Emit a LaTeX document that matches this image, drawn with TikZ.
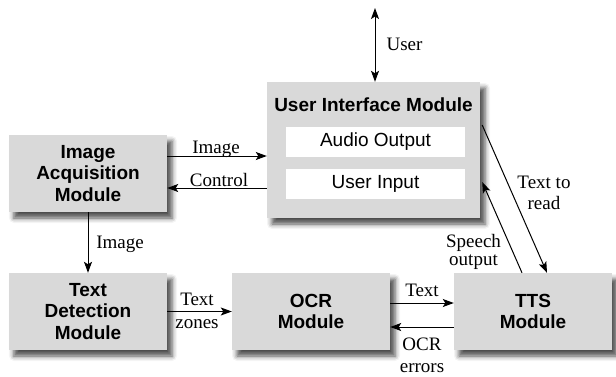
\documentclass[tikz,border=0pt]{standalone}
\usepackage{fontspec}
\setmainfont{Liberation Serif}
\setsansfont{Liberation Sans}
\usetikzlibrary{arrows.meta,shadows.blur}
\definecolor{boxgray}{RGB}{217,217,217}
\begin{document}
\begin{tikzpicture}[x=1pt,y=-1pt,
  shadowy/.style={blur shadow={shadow xshift=5pt, shadow yshift=-6pt, shadow blur radius=5pt, shadow opacity=70}},
  module/.style={fill=boxgray, minimum width=158pt, minimum height=77pt, inner sep=0pt,
    align=center, font=\sffamily\bfseries\fontsize{19}{21.5}\selectfont, shadowy},
  bigmod/.style={fill=boxgray, minimum width=213pt, minimum height=136pt, inner sep=0pt, shadowy},
  sub/.style={fill=white, minimum width=179pt, minimum height=30pt, inner sep=0pt,
    font=\sffamily\fontsize{19}{21.5}\selectfont},
  title/.style={font=\sffamily\bfseries\fontsize{19}{21.5}\selectfont, inner sep=0pt},
  lbl/.style={font=\rmfamily\fontsize{19}{22}\selectfont, inner sep=0pt, anchor=base},
  arr/.style={line width=1pt, -{Stealth[length=11pt,width=8pt,inset=2.5pt]}},
  arrb/.style={line width=1pt, {Stealth[length=11pt,width=8pt,inset=2.5pt]}-{Stealth[length=11pt,width=8pt,inset=2.5pt]}}
]
\useasboundingbox (0,0) rectangle (616,376);

% modules
\node[bigmod] (UI) at (373.5,150) {};
\node[title, anchor=base] (UIt) at (373.5,111) {User Interface Module};
\node[sub] (AO) at (375.5,142) {Audio Output};
\node[sub] (UIn) at (375.5,183.5) {User Input};

\node[module] (IA) at (88,173.5) {Image\\Acquisition\\Module};
\node[module] (TD) at (88,311.5) {Text\\Detection\\Module};
\node[module] (OCR) at (311,311.5) {OCR\\Module};
\node[module] (TTS) at (533,311.5) {TTS\\Module};

% user arrow
\coordinate (utop) at (375,8);
\draw[arrb] (utop) -- (utop |- UI.north);
\node[lbl] (lu) at (404.5,50) {User};

% IA <-> UI
\coordinate (ia1) at ([yshift=17.5pt]IA.east);
\coordinate (ia2) at ([yshift=-14.5pt]IA.east);
\draw[arr] (ia1) -- (ia1 -| UI.west);
\draw[arr] (ia2 -| UI.west) -- (ia2);
\node[lbl] (limg) at (216,153) {Image};
\node[lbl] (lctl) at (219,186) {Control};

% IA -> TD
\draw[arr] (IA.south) -- (TD.north);
\node[lbl] (limg2) at (120,248) {Image};

% TD -> OCR
\draw[arr] (TD.east) -- (OCR.west);
\node[lbl] (ltz1) at (197,305) {Text};
\node[lbl] (ltz2) at (197,328) {zones};

% OCR <-> TTS
\coordinate (o1) at ([yshift=8.5pt]OCR.east);
\coordinate (o2) at ([yshift=-15.5pt]OCR.east);
\draw[arr] (o1) -- (o1 -| TTS.west);
\draw[arr] (o2 -| TTS.west) -- (o2);
\node[lbl] (ltxt) at (422,296) {Text};
\node[lbl] (locr1) at (422,350) {OCR};
\node[lbl] (locr2) at (422,372) {errors};

% UI <-> TTS
\coordinate (u1) at ([yshift=25pt,xshift=2pt]UI.east);
\coordinate (u2) at ([yshift=-32pt,xshift=2pt]UI.east);
\coordinate (t1) at ([xshift=14pt]TTS.north);
\coordinate (t2) at ([xshift=-11pt]TTS.north);
\draw[arr] (u1) -- (t1);
\draw[arr] (t2) -- (u2);
\node[lbl] (lr1) at (544,188) {Text to};
\node[lbl] (lr2) at (544,209) {read};
\node[lbl] (ls1) at (473.5,247) {Speech};
\node[lbl] (ls2) at (473.5,265) {output};
\end{tikzpicture}
\end{document}
